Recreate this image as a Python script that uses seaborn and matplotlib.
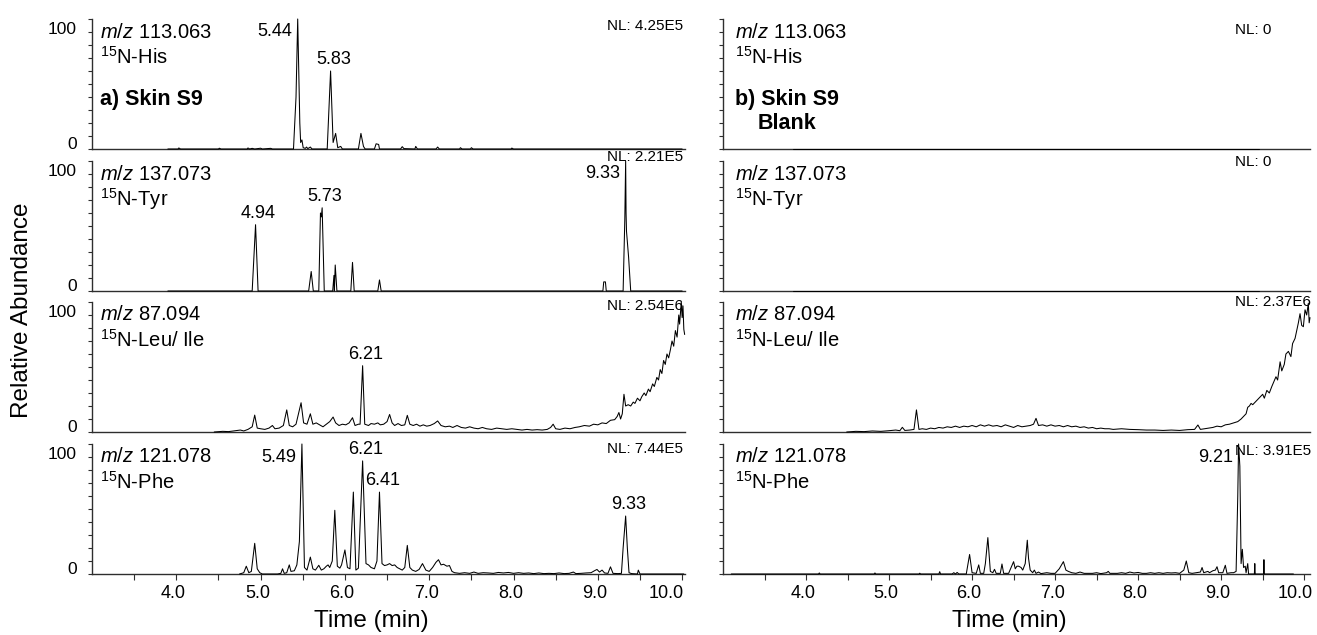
import numpy as np
import pandas as pd
import matplotlib
matplotlib.use("Agg")
import matplotlib.pyplot as plt
import matplotlib.transforms as mtransforms
import seaborn as sns

sns.set_style("ticks")
plt.rcParams['font.family'] = ['Liberation Sans', 'DejaVu Sans']
plt.rcParams['mathtext.fontset'] = 'custom'
plt.rcParams['mathtext.rm'] = 'Liberation Sans'
plt.rcParams['mathtext.it'] = 'Liberation Sans:italic'
plt.rcParams['mathtext.bf'] = 'Liberation Sans:bold'
plt.rcParams['text.color'] = 'black'
plt.rcParams['xtick.labelcolor'] = 'black'
plt.rcParams['ytick.labelcolor'] = 'black'

# ---------------------------------------------------------------------------
# Extracted-ion chromatograms (time in min, relative abundance in %)
# ---------------------------------------------------------------------------
mz_values = ["113.063", "137.073", "87.094", "121.078"]
compounds = ["His", "Tyr", "Leu/ Ile", "Phe"]
sample_nl = ["4.25E5", "2.21E5", "2.54E6", "7.44E5"]
blank_nl = ["0", "0", "2.37E6", "3.91E5"]
xtick_values = [4.0, 5.0, 6.0, 7.0, 8.0, 9.0, 10.0]

# a) Skin S9 sample
sample_his_t = [3.90, 4.02, 4.03, 4.05, 4.50, 4.51, 4.53, 4.84, 4.85, 4.87, 4.90, 4.93,
                5.00, 5.02, 5.12, 5.14, 5.39, 5.42, 5.44, 5.465, 5.475, 5.49, 5.505,
                5.53, 5.545, 5.56, 5.59, 5.61, 5.79, 5.83, 5.86, 5.89, 5.915, 5.95, 5.97,
                6.16, 6.19, 6.22, 6.24, 6.35, 6.37, 6.40, 6.41, 6.66, 6.68, 6.70, 6.83,
                6.84, 6.86, 7.08, 7.10, 7.12, 7.36, 7.37, 7.39, 7.49, 7.50, 7.52, 7.97,
                7.98, 8.00, 10.00]
sample_his_y = [0, 0, 0.8, 0, 0, 0.6, 0, 0, 0.8, 0, 0.5, 0,
                0.6, 0, 0.5, 0, 0, 40, 100, 20, 5, 7, 1,
                0.5, 1.5, 0.3, 1.5, 0, 0, 60, 5, 12, 1, 2, 0,
                0, 12, 2, 0, 0, 4, 3.5, 0, 0, 1.8, 0.3, 0,
                2, 0, 0, 1.5, 0, 0, 1, 0, 0, 1, 0, 0,
                0.7, 0, 0]
sample_his_peaks = [5.44, 5.83]

sample_tyr_t = [3.90, 4.90, 4.94, 4.97, 5.57, 5.60, 5.625, 5.69, 5.71, 5.72, 5.73, 5.755,
                5.855, 5.87, 5.875, 5.885, 5.905, 6.07, 6.09, 6.11, 6.39, 6.41, 6.43,
                9.06, 9.07, 9.09, 9.10, 9.30, 9.32, 9.33, 9.335, 9.34, 9.365, 9.39, 10.00]
sample_tyr_y = [0, 0, 51, 0, 0, 15, 0, 0, 60, 57, 64, 0,
                0, 12, 0, 20, 0, 0, 22, 0, 0, 8.5, 0,
                0, 7, 7, 0, 0, 55, 100, 60, 46, 26, 0, 0]
sample_tyr_peaks = [4.94, 5.73, 9.33]

sample_leu_t = [4.45, 4.55, 4.62, 4.70, 4.76, 4.80, 4.85, 4.90, 4.93, 4.96, 5.00, 5.05,
                5.10, 5.14, 5.17, 5.22, 5.27, 5.31, 5.34, 5.38, 5.42, 5.48, 5.51, 5.55,
                5.59, 5.62, 5.66, 5.70, 5.74, 5.78, 5.82, 5.86, 5.89, 5.93, 5.97, 6.01,
                6.05, 6.09, 6.12, 6.16, 6.18, 6.21, 6.235, 6.28, 6.31, 6.35, 6.39, 6.42,
                6.46, 6.50, 6.53, 6.56, 6.59, 6.63, 6.67, 6.71, 6.74, 6.77, 6.81, 6.85,
                6.89, 6.93, 6.97, 7.01, 7.06, 7.10, 7.14, 7.19, 7.24, 7.28, 7.33, 7.38,
                7.43, 7.48, 7.53, 7.58, 7.63, 7.68, 7.74, 7.80, 7.86, 7.92, 7.98, 8.04,
                8.10, 8.16, 8.22, 8.28, 8.34, 8.40, 8.44, 8.47, 8.50, 8.55, 8.61, 8.67,
                8.73, 8.78, 8.84, 8.90, 8.95, 9.00, 9.05, 9.10, 9.15, 9.20, 9.23, 9.25,
                9.27, 9.29, 9.31, 9.33, 9.36, 9.39, 9.42, 9.44, 9.47, 9.50, 9.52, 9.55,
                9.57, 9.60, 9.62, 9.65, 9.67, 9.70, 9.72, 9.74, 9.76, 9.78, 9.80, 9.82,
                9.84, 9.86, 9.88, 9.90, 9.92, 9.94, 9.96, 9.97, 9.99, 10.00, 10.01, 10.02,
                10.03]
sample_leu_y = [0, 0.5, 0.3, 1.0, 1.5, 0.8, 2.0, 4, 13, 3, 2.5, 2.0,
                3, 5, 2.5, 3, 5, 17, 5, 4, 6, 22.5, 7, 6,
                14, 6, 7, 5.5, 4, 6, 8, 11.5, 7, 5, 6, 5.5,
                7, 11, 5, 6, 6, 51, 6, 5, 6.5, 6, 7, 5.5,
                6, 8, 13.5, 7, 5, 6.5, 5, 5.5, 12.8, 6, 5, 6,
                4.5, 5.5, 4.5, 5, 6.5, 8.5, 5, 4, 4.5, 3.5, 5, 3.5,
                3, 4, 3, 2.5, 3.5, 2.5, 2, 3, 2.5, 2, 2.5, 2,
                1.5, 2, 1.5, 1.8, 1.5, 2, 3.5, 6, 2.5, 2, 3, 2.5,
                3.5, 4, 5, 4.5, 6, 5.5, 7, 6.5, 9, 9.5, 12, 15,
                10, 14, 29, 20, 21, 20, 23, 22, 26, 24, 27, 30,
                28, 33, 31, 37, 35, 42, 40, 48, 45, 55, 52, 60,
                57, 63, 70, 66, 78, 73, 90, 83, 100, 88, 97, 79,
                75]
sample_leu_peaks = [6.21]

sample_phe_t = [4.75, 4.80, 4.83, 4.86, 4.89, 4.93, 4.96, 4.99, 5.02, 5.20, 5.24, 5.26,
                5.28, 5.31, 5.34, 5.36, 5.40, 5.43, 5.46, 5.49, 5.52, 5.55, 5.59, 5.62,
                5.65, 5.69, 5.72, 5.75, 5.78, 5.80, 5.82, 5.85, 5.88, 5.91, 5.94, 5.96,
                6.00, 6.03, 6.06, 6.10, 6.13, 6.16, 6.21, 6.25, 6.28, 6.31, 6.35, 6.38,
                6.41, 6.44, 6.47, 6.50, 6.53, 6.56, 6.59, 6.62, 6.65, 6.68, 6.71, 6.74,
                6.77, 6.80, 6.84, 6.88, 6.92, 6.96, 7.00, 7.04, 7.08, 7.11, 7.14, 7.17,
                7.21, 7.24, 7.27, 7.30, 7.36, 7.42, 7.48, 7.53, 7.58, 7.64, 7.70, 7.76,
                7.82, 7.88, 7.94, 8.00, 8.06, 8.12, 8.18, 8.24, 8.30, 8.36, 8.42, 8.48,
                8.54, 8.60, 8.66, 8.71, 8.74, 8.80, 8.86, 8.92, 8.96, 8.99, 9.02, 9.05,
                9.08, 9.12, 9.15, 9.18, 9.24, 9.28, 9.30, 9.33, 9.35, 9.37, 9.40, 9.47,
                9.48, 9.50, 10.02]
sample_phe_y = [0, 1, 6, 1, 2, 23.6, 4, 1, 0, 0, 0.5, 4,
                0.5, 1, 7, 2, 2.5, 7, 25, 100, 5, 3, 13, 4,
                3, 6.7, 3, 4, 6, 7, 5, 10, 49, 6, 4.5, 7,
                18.5, 5, 4, 63, 3, 4.5, 87, 8, 7, 5, 4, 10,
                63, 8, 6.5, 7, 8, 6.5, 7, 5, 4, 3, 5, 22,
                5, 3, 2, 3.5, 8, 3, 2, 5, 9, 11, 7, 7.5,
                6, 6.5, 2, 1, 0.5, 1, 0.5, 1.5, 0.5, 1, 0.8, 0.5,
                1.2, 0.8, 1.2, 0.5, 1, 0.5, 0.8, 0.3, 0.8, 0.3, 0.5, 0.3,
                0.8, 0.3, 0.5, 1.5, 0.3, 0.5, 0.8, 1, 2.5, 3.5, 1.5, 3,
                0.8, 0.5, 5.5, 0.5, 0.3, 0.5, 20, 44.6, 20, 1, 0.3, 0,
                3, 0, 0]
sample_phe_peaks = [5.49, 6.21, 6.41, 9.33]

# b) Skin S9 blank
blank_his_t = [3.84, 9.46]
blank_his_y = [0, 0]
blank_his_peaks = []

blank_tyr_t = [3.84, 9.45]
blank_tyr_y = [0, 0]
blank_tyr_peaks = []

blank_leu_t = [4.49, 4.60, 4.70, 4.80, 4.90, 5.00, 5.08, 5.13, 5.16, 5.19, 5.25, 5.30,
               5.33, 5.36, 5.40, 5.45, 5.50, 5.55, 5.60, 5.65, 5.70, 5.75, 5.80, 5.85,
               5.90, 5.95, 6.00, 6.05, 6.10, 6.15, 6.20, 6.25, 6.30, 6.35, 6.40, 6.45,
               6.50, 6.55, 6.60, 6.65, 6.70, 6.74, 6.77, 6.80, 6.85, 6.90, 6.95, 7.00,
               7.05, 7.10, 7.15, 7.20, 7.25, 7.30, 7.35, 7.40, 7.45, 7.50, 7.55, 7.60,
               7.65, 7.70, 7.80, 7.90, 8.00, 8.10, 8.20, 8.30, 8.40, 8.50, 8.60, 8.68,
               8.72, 8.75, 8.80, 8.85, 8.90, 8.95, 9.00, 9.05, 9.10, 9.15, 9.20, 9.24,
               9.27, 9.30, 9.32, 9.34, 9.36, 9.38, 9.41, 9.44, 9.47, 9.50, 9.52, 9.55,
               9.58, 9.61, 9.63, 9.66, 9.68, 9.71, 9.73, 9.76, 9.78, 9.81, 9.84, 9.86,
               9.89, 9.91, 9.93, 9.95, 9.97, 9.99, 10.01, 10.03, 10.05, 10.06, 10.07]
blank_leu_y = [0, 0.5, 0.3, 0.8, 0.5, 1, 1.5, 1, 3.6, 1.2, 1.5, 2,
               17, 2, 2.5, 2, 3, 2.5, 3.5, 3, 4, 3.5, 4.5, 3.5,
               4.5, 4, 5, 4, 5.5, 4.5, 5.5, 4.5, 5, 4, 5.5, 4.5,
               3.5, 5, 4, 4.5, 5, 6, 10.5, 5, 5.5, 4.5, 5.5, 4.5,
               5, 4, 5, 4, 4.5, 3.5, 4, 3, 3.5, 2.5, 3, 2.5,
               2.5, 2, 2.5, 2, 1.8, 1.5, 1.5, 1.2, 1.5, 1.2, 1.8, 2,
               5.4, 2, 2.5, 3, 3.5, 4.5, 4, 5.5, 6, 7, 8, 10,
               12, 14, 19, 20, 22, 21, 23, 25, 27, 29, 26, 32,
               30, 35, 38, 42.5, 40, 54, 47, 52, 60, 62, 58, 68,
               72, 78, 84, 91, 82, 81, 94, 90, 99, 84, 88]
blank_leu_peaks = []

blank_phe_t = [3.10, 4.15, 4.16, 4.17, 4.82, 4.83, 4.84, 5.36, 5.37, 5.38, 5.60, 5.61,
               5.62, 5.76, 5.78, 5.80, 5.82, 5.84, 5.93, 5.97, 6.00, 6.05, 6.08, 6.10,
               6.14, 6.16, 6.19, 6.22, 6.25, 6.27, 6.29, 6.34, 6.36, 6.38, 6.44, 6.47,
               6.50, 6.52, 6.54, 6.56, 6.59, 6.61, 6.64, 6.665, 6.68, 6.70, 6.73, 6.75,
               6.77, 6.80, 6.83, 6.90, 6.95, 7.00, 7.05, 7.10, 7.13, 7.16, 7.20, 7.25,
               7.30, 7.35, 7.45, 7.50, 7.55, 7.62, 7.64, 7.66, 7.75, 7.80, 7.85, 7.90,
               7.95, 8.00, 8.05, 8.10, 8.15, 8.20, 8.25, 8.30, 8.35, 8.40, 8.45, 8.50,
               8.55, 8.58, 8.61, 8.65, 8.70, 8.75, 8.77, 8.79, 8.84, 8.86, 8.90, 8.93,
               8.95, 8.97, 9.02, 9.05, 9.07, 9.12, 9.15, 9.18, 9.20, 9.21, 9.225, 9.24,
               9.255, 9.27, 9.29, 9.30, 9.32, 9.33, 9.40, 9.405, 9.41, 9.51, 9.515, 9.52,
               9.87]
blank_phe_y = [0, 0, 0.8, 0, 0, 0.8, 0, 0, 0.6, 0, 0, 1.8,
               0, 0, 1, 0, 1.2, 0, 0, 15, 1, 0.5, 7, 0.5,
               0.5, 8, 28, 2, 1, 3.6, 0.5, 0.5, 7.7, 0.5, 0.5, 5,
               9.5, 4, 6, 6, 5, 3, 8, 26, 12, 3, 1, 3,
               0.5, 1.5, 0.3, 1, 0.5, 0.5, 4, 9.5, 3, 2, 1, 0.5,
               1.5, 0.5, 0.5, 1, 0.3, 1, 2, 0.5, 0.5, 1, 0.5, 1.5,
               0.8, 1.2, 0.5, 0.5, 1, 0.5, 1, 0.5, 1, 0.8, 1, 0.5,
               3, 10, 1, 0.5, 1, 1.5, 5, 1, 2, 1, 2.5, 3,
               5.6, 1, 1, 6.7, 0.5, 1, 1, 2, 60, 100, 83, 8,
               19, 5, 6, 1, 8, 0, 0, 8, 0, 0, 11, 0,
               0]
blank_phe_peaks = [9.21]

sample_traces = [(sample_his_t, sample_his_y, sample_his_peaks),
                 (sample_tyr_t, sample_tyr_y, sample_tyr_peaks),
                 (sample_leu_t, sample_leu_y, sample_leu_peaks),
                 (sample_phe_t, sample_phe_y, sample_phe_peaks)]
blank_traces = [(blank_his_t, blank_his_y, blank_his_peaks),
                (blank_tyr_t, blank_tyr_y, blank_tyr_peaks),
                (blank_leu_t, blank_leu_y, blank_leu_peaks),
                (blank_phe_t, blank_phe_y, blank_phe_peaks)]

# ---------------------------------------------------------------------------
# Layout
# ---------------------------------------------------------------------------
W, H = 1317, 635
fig = plt.figure(figsize=(W / 100, H / 100), dpi=100)

col_left = {"x0": 92, "x1": 685, "xmax": 10.034, "text_x": 0.0135, "nl_x": 0.868,
            "nl_y": [0.946, 1.03, 0.97, 0.96], "last_shift": -16}
col_right = {"x0": 723, "x1": 1310, "xmax": 10.07, "text_x": 0.0204, "nl_x": 0.872,
             "nl_y": [0.915, 0.99, 1.0, 0.946], "last_shift": -9}
row_tops = [19, 161, 302, 444]
row_h = 130

spine_col = "#2e2e2e"
fs_text = 14.5
fs_peak = 13


def draw_panel(ax, times, values, peaks, row, col, nl, show_ylabels, show_xlabels, mz, comp):
    df = pd.DataFrame({"Time (min)": times, "Relative Abundance": values})
    sns.lineplot(data=df, x="Time (min)", y="Relative Abundance", ax=ax, color="black",
                 linewidth=0.75, estimator=None, sort=False, zorder=3, clip_on=False)
    ax.set_xlim(3.0, col["xmax"])
    ax.set_ylim(0, 100)
    ax.set_xlabel("")
    ax.set_ylabel("")
    sns.despine(ax=ax)
    for side in ("left", "bottom"):
        ax.spines[side].set_color(spine_col)
        ax.spines[side].set_linewidth(1.0)

    # y axis: a tick every 10 %, the 0 / 100 labels sit just inside the range
    ax.set_yticks(np.arange(0, 101, 10), minor=True)
    ax.tick_params(axis="y", which="minor", length=3, width=0.8, color=spine_col,
                   direction="out")
    if show_ylabels:
        ax.set_yticks([4.6, 93])
        ax.set_yticklabels(["0", "100"], fontsize=12.5)
        ax.tick_params(axis="y", which="major", length=0, pad=11)
    else:
        ax.set_yticks([])

    # x axis
    if show_xlabels:
        ax.set_xticks(xtick_values)
        ax.set_xticklabels([f"{v:.1f}" for v in xtick_values], fontsize=13)
        ax.set_xticks(np.arange(3.5, 10.0, 1.0), minor=True)
        ax.tick_params(axis="x", which="both", length=4, width=0.8, color=spine_col,
                       direction="out", pad=4)
        labels = ax.get_xticklabels()
        for i, lab in enumerate(labels):
            dx = col["last_shift"] if i == len(labels) - 1 else -3
            lab.set_transform(lab.get_transform() +
                              mtransforms.ScaledTranslation(dx / 100, 0,
                                                            fig.dpi_scale_trans))
    else:
        ax.set_xticks([])
        ax.set_xticks([], minor=True)

    # trace annotations
    ax.text(col["text_x"], 0.90, f"$m/z$ {mz}", transform=ax.transAxes,
            fontsize=fs_text, ha="left", va="center")
    ax.text(col["text_x"], 0.708, f"$^{{15}}$N-{comp}", transform=ax.transAxes,
            fontsize=fs_text, ha="left", va="center")
    ax.text(col["nl_x"], col["nl_y"][row], f"NL: {nl}", transform=ax.transAxes,
            fontsize=11, ha="left", va="center", clip_on=False, zorder=2)

    # retention-time labels at the peak apexes
    for p in peaks:
        apex = float(np.interp(p, times, values))
        if apex >= 99:
            ax.annotate(f"{p:.2f}", xy=(p, 90), xytext=(-4, 0),
                        textcoords="offset points", ha="right", va="center",
                        fontsize=fs_peak)
        else:
            ax.annotate(f"{p:.2f}", xy=(p, apex), xytext=(2, 2),
                        textcoords="offset points", ha="center", va="bottom",
                        fontsize=fs_peak)


for col, traces, nls, is_left in ((col_left, sample_traces, sample_nl, True),
                                  (col_right, blank_traces, blank_nl, False)):
    for row, (t, y, pk) in enumerate(traces):
        rect = [col["x0"] / W, 1 - (row_tops[row] + row_h) / H,
                (col["x1"] - col["x0"]) / W, row_h / H]
        ax = fig.add_axes(rect)
        draw_panel(ax, t, y, pk, row, col, nls[row], is_left, row == 3,
                   mz_values[row], compounds[row])
        if row == 0:
            if is_left:
                ax.text(col["text_x"], 0.377, "a) Skin S9", transform=ax.transAxes,
                        fontsize=15.5, fontweight="bold", ha="left", va="center")
            else:
                ax.text(col["text_x"], 0.29, "b) Skin S9\nBlank", transform=ax.transAxes,
                        fontsize=15.5, fontweight="bold", ha="left", va="center",
                        multialignment="center", linespacing=1.2)

fig.text(371 / W, 14 / H, "Time (min)", fontsize=17.5, ha="center", va="center")
fig.text(1009 / W, 14 / H, "Time (min)", fontsize=17.5, ha="center", va="center")
fig.text(22 / W, 1 - 310 / H, "Relative Abundance", fontsize=17.5, rotation=90,
         ha="center", va="center")

fig.savefig("out.png", dpi=100)
